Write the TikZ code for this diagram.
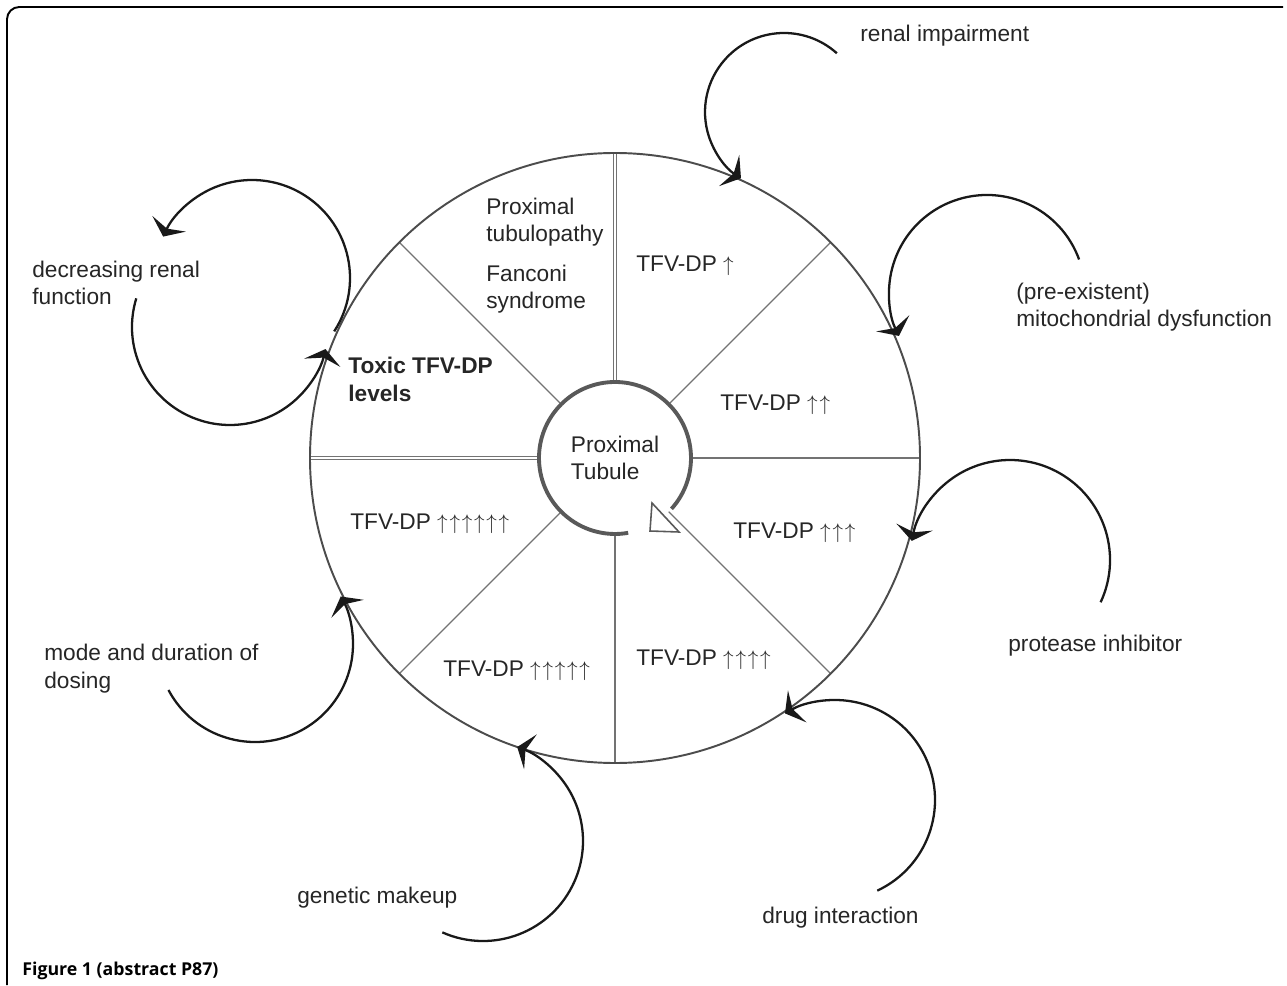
\documentclass[tikz,border=0pt]{standalone}
\usepackage{fontspec}
\setmainfont{Liberation Sans}
\newfontfamily\capfont{Open Sans}
\usepackage{tikz}
\usetikzlibrary{calc, arrows.meta, positioning}

\newcommand{\up}[1]{\(\foreach \i in {1,...,#1}{\uparrow\mkern1.5mu}\)}

\begin{document}
\begin{tikzpicture}[
    x=0.02cm, y=0.02cm,
    lbl/.style={anchor=base west, inner sep=0pt, align=left, text=black!85, font=\fontsize{12.9}{15.6}\selectfont},
    spoke/.style={draw=black!55, line width=0.7pt},
    twin/.style={draw=black!55, line width=0.5pt, double=white, double distance=1.6pt},
    feed/.style={draw=black!90, line width=1.3pt, -{Stealth[length=8pt, width=21pt, inset=3pt]}}
]
\fill[white] (0,0) rectangle (1287,-985);
\draw[line width=1.1pt, rounded corners=7pt] (7,-985) -- (7,-7) -- (1283,-7);

\node[circle, minimum size=12.2cm, inner sep=0pt, outer sep=0pt] (rim) at (615,-458) {};
\node[lbl, anchor=center, circle, minimum size=3.04cm, outer sep=0pt] (core) at (615,-458) {Proximal\\Tubule};

\draw[twin] (core.90) -- (rim.90);
\draw[twin] (core.180) -- (rim.180);
\draw[spoke] (core.0) -- (rim.0);
\draw[spoke] (core.45) -- (rim.45);
\draw[spoke] (core.135) -- (rim.135);
\draw[spoke] (core.225) -- (rim.225);
\draw[spoke] (core.270) -- (rim.270);
\draw[spoke] (core.315) -- (rim.315);

\draw[draw=black!70, line width=1.1pt] (rim.center) circle[radius=305];
\draw[draw=black!65, line width=2.2pt] (core.-42) arc[start angle=-42, end angle=280, radius=76];
\draw[draw=black!65, line width=0.9pt, fill=white] (652,-503) -- (650,-531) -- (679,-532) -- cycle;

\node[lbl] (impair) at (860,-42) {renal impairment};
\node[lbl] (decline) at (32,-305) {decreasing renal\\function};
\node[lbl] (tubulo) at (486,-242) {Proximal\\tubulopathy};
\node[lbl] (fanconi) at (486,-309) {Fanconi\\syndrome};
\node[lbl] (lvlA) at (636,-272) {TFV-DP \up{1}};
\node[lbl] (mito) at (1016,-327) {(pre-existent)\\mitochondrial dysfunction};
\node[lbl, font=\fontsize{12.9}{15.6}\selectfont\bfseries] (toxic) at (348,-401) {Toxic TFV-DP\\levels};
\node[lbl] (lvlB) at (720,-411) {TFV-DP \up{2}};
\node[lbl] (lvlF) at (350,-529) {TFV-DP \up{6}};
\node[lbl] (lvlC) at (733,-538) {TFV-DP \up{3}};
\node[lbl] (protease) at (1008,-651) {protease inhibitor};
\node[lbl] (dosing) at (44,-688) {mode and duration of\\dosing};
\node[lbl] (lvlE) at (443,-676) {TFV-DP \up{5}};
\node[lbl] (lvlD) at (636,-665) {TFV-DP \up{4}};
\node[lbl] (genetic) at (297,-903) {genetic makeup};
\node[lbl] (drug) at (762,-923) {drug interaction};
\node[lbl, text=black, font=\capfont\fontsize{10.1}{12}\selectfont\bfseries] (caption) at (22,-975) {Figure 1 (abstract P87)};

\coordinate (fromRenal) at ($(784,-112)+(48:79)$);
\coordinate (fromMito) at ($(987,-293)+(20:98)$);
\coordinate (fromDecline) at ($(230,-327)+(163:98)$);
\coordinate (fromToxic) at ($(252,-278)+(-33:98)$);
\coordinate (fromDosing) at ($(255,-644)+(208:98)$);
\coordinate (fromGenetic) at ($(483,-841)+(246:100)$);
\coordinate (fromDrug) at ($(835,-800)+(-65:100)$);
\coordinate (fromProtease) at ($(1010,-560)+(-25:100)$);

\draw[feed] (fromRenal) arc[start angle=48, end angle=237, radius=79];
\draw[feed] (fromMito) arc[start angle=20, end angle=206, radius=98];
\draw[feed] (fromDecline) arc[start angle=163, end angle=347, radius=98];
\draw[feed] (fromToxic) arc[start angle=-33, end angle=155, radius=98];
\draw[feed] (fromDosing) arc[start angle=208, end angle=389, radius=98];
\draw[feed] (fromGenetic) arc[start angle=246, end angle=430, radius=100];
\draw[feed] (fromDrug) arc[start angle=-65, end angle=120, radius=100];
\draw[feed] (fromProtease) arc[start angle=-25, end angle=169, radius=100];
\end{tikzpicture}
\end{document}
